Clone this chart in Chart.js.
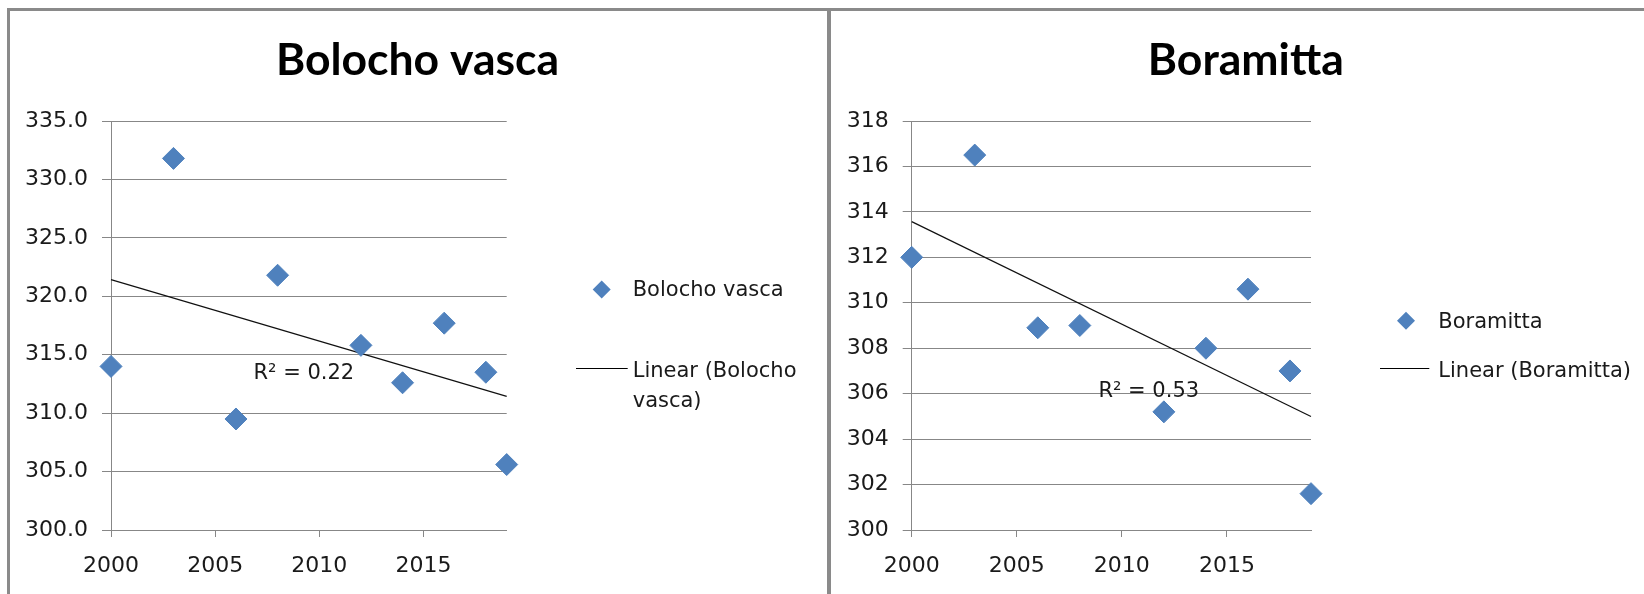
<!DOCTYPE html>
<html>
<head>
<meta charset="utf-8">
<script src="https://cdn.jsdelivr.net/npm/chart.js@4/dist/chart.umd.min.js"></script>
<style>
  html, body { margin: 0; padding: 0; background: #fff; overflow: hidden; }
  body { width: 1644px; height: 594px; position: relative; }
  .rule { position: absolute; background: #8a8a8a; }
  .panel { position: absolute; top: 11px; height: 600px; }
</style>
</head>
<body>
<div class="rule" style="left:7px; top:8px; width:1637px; height:3px;"></div>
<div class="rule" style="left:7px; top:8px; width:3px; height:586px;"></div>
<div class="rule" style="left:827px; top:8px; width:4px; height:586px;"></div>
<div class="panel" style="left:10px; width:817px;"><canvas id="left"></canvas></div>
<div class="panel" style="left:831px; width:813px;"><canvas id="right"></canvas></div>
<script>
// Survey years and the two station series
const years = [2000, 2003, 2006, 2008, 2012, 2014, 2016, 2018, 2019];
const bolochoVasca = [314.0, 331.8, 309.5, 321.8, 315.8, 312.6, 317.7, 313.5, 305.6];
const boramitta = [312.0, 316.5, 308.9, 309.0, 305.2, 308.0, 310.6, 307.0, 301.6];

// Axis settings
const xRange = [2000, 2019];
const xStep = 5;
const bolochoTicks = { min: 300, max: 335, step: 5, decimals: 1 };
const boramittaTicks = { min: 300, max: 318, step: 2, decimals: 0 };

const MARKER = '#4F81BD';
const GRID = '#878787';
const TEXT = '#1a1a1a';
const FONT = "'DejaVu Sans'";
const TICK_SIZE = 22;
const NOTE_SIZE = 21;

// Least-squares fit of y on x, with coefficient of determination
function linearFit(xs, ys) {
  const n = xs.length;
  const mx = xs.reduce((a, b) => a + b, 0) / n;
  const my = ys.reduce((a, b) => a + b, 0) / n;
  let sxy = 0, sxx = 0, syy = 0;
  for (let i = 0; i < n; i++) {
    sxy += (xs[i] - mx) * (ys[i] - my);
    sxx += (xs[i] - mx) ** 2;
    syy += (ys[i] - my) ** 2;
  }
  const slope = sxy / sxx;
  const intercept = my - slope * mx;
  return { slope, intercept, r2: (sxy * sxy) / (sxx * syy) };
}

function diamond(ctx, x, y, r, color) {
  ctx.beginPath();
  ctx.moveTo(x, y - r);
  ctx.lineTo(x + r, y);
  ctx.lineTo(x, y + r);
  ctx.lineTo(x - r, y);
  ctx.closePath();
  ctx.fillStyle = color;
  ctx.fill();
}

// Title, R² note and the side legend
const decor = {
  id: 'decor',
  afterDraw(chart, args, o) {
    const ctx = chart.ctx;
    const xs = chart.scales.x, ys = chart.scales.y;
    ctx.save();
    ctx.fillStyle = '#000';
    ctx.textAlign = 'center';
    ctx.textBaseline = 'alphabetic';
    ctx.font = `bold ${o.titleSize}px Lato`;
    ctx.fillText(o.title, o.titleX, o.titleY);

    ctx.fillStyle = TEXT;
    ctx.font = `${NOTE_SIZE}px ${FONT}`;
    ctx.textBaseline = 'middle';
    ctx.fillText(o.r2Text, xs.getPixelForValue(o.r2At[0]), ys.getPixelForValue(o.r2At[1]));

    const L = o.legend;
    diamond(ctx, L.markerX, L.markerY, 9, MARKER);
    ctx.textAlign = 'left';
    ctx.textBaseline = 'alphabetic';
    ctx.fillStyle = TEXT;
    ctx.fillText(o.seriesName, L.textX, L.row1);
    ctx.strokeStyle = '#000';
    ctx.lineWidth = 1;
    ctx.beginPath();
    ctx.moveTo(L.lineX0, L.lineY + 0.5);
    ctx.lineTo(L.lineX1, L.lineY + 0.5);
    ctx.stroke();
    L.fitLines.forEach((t, i) => ctx.fillText(t, L.textX, L.row2 + i * 30));
    ctx.restore();
  }
};

function makeChart(id, name, values, yt, geom) {
  const fit = linearFit(years, values);
  const trend = xRange.map(x => ({ x, y: fit.intercept + fit.slope * x }));
  const el = document.getElementById(id);
  const W = geom.width, H = 600;
  el.width = W; el.height = H;
  return new Chart(el, {
    data: {
      datasets: [
        {
          type: 'scatter',
          label: name,
          data: years.map((x, i) => ({ x, y: values[i] })),
          pointStyle: 'rectRot',
          pointRadius: 11,
          pointHoverRadius: 11,
          backgroundColor: MARKER,
          borderColor: MARKER,
          borderWidth: 1,
          clip: false
        },
        {
          type: 'line',
          label: 'Linear (' + name + ')',
          data: trend,
          borderColor: '#111',
          borderWidth: 1.2,
          pointRadius: 0,
          fill: false,
          clip: false
        }
      ]
    },
    options: {
      responsive: false,
      animation: false,
      events: [],
      layout: {
        padding: { left: 0, top: 110, right: W - geom.plotRight, bottom: 31 }
      },
      plugins: {
        legend: { display: false },
        tooltip: { enabled: false },
        title: { display: false },
        decor: {
          title: name,
          titleSize: geom.titleSize,
          titleX: geom.titleX,
          titleY: 64,
          r2Text: 'R\u00B2 = ' + fit.r2.toFixed(2),
          r2At: geom.r2At,
          seriesName: name,
          legend: geom.legend
        }
      },
      scales: {
        x: {
          type: 'linear',
          min: xRange[0],
          max: xRange[1],
          afterFit: s => { s.height = 50; },
          border: { display: true, color: GRID, width: 1 },
          grid: { drawOnChartArea: false, drawTicks: true, tickLength: 7, color: GRID },
          ticks: {
            stepSize: xStep,
            includeBounds: false,
            padding: 16,
            color: TEXT,
            font: { family: FONT, size: TICK_SIZE },
            maxRotation: 0,
            callback: v => String(v)
          }
        },
        y: {
          type: 'linear',
          min: yt.min,
          max: yt.max,
          afterFit: s => { s.width = geom.plotLeft; },
          border: { display: true, color: GRID, width: 1 },
          grid: { drawOnChartArea: true, drawTicks: true, tickLength: 9, color: GRID, lineWidth: 1 },
          ticks: {
            stepSize: yt.step,
            padding: 14,
            color: TEXT,
            font: { family: FONT, size: TICK_SIZE },
            callback: v => Number(v).toFixed(yt.decimals)
          }
        }
      }
    },
    plugins: [decor]
  });
}

makeChart('left', 'Bolocho vasca', bolochoVasca, bolochoTicks, {
  width: 817,
  plotLeft: 101,
  plotRight: 496.7,
  titleSize: 44.5,
  titleX: 407.5,
  r2At: [2009.26, 313.36],
  legend: {
    markerX: 591.7, markerY: 278.5, textX: 622.7, row1: 285,
    lineX0: 566, lineX1: 617.7, lineY: 357, row2: 365.7,
    fitLines: ['Linear (Bolocho', 'vasca)']
  }
});

makeChart('right', 'Boramitta', boramitta, boramittaTicks, {
  width: 813,
  plotLeft: 80.7,
  plotRight: 480,
  titleSize: 44.5,
  titleX: 414.8,
  r2At: [2011.28, 306.09],
  legend: {
    markerX: 575, markerY: 309.7, textX: 607.3, row1: 316.7,
    lineX0: 549, lineX1: 598.3, lineY: 357, row2: 365.7,
    fitLines: ['Linear (Boramitta)']
  }
});
</script>
</body>
</html>
